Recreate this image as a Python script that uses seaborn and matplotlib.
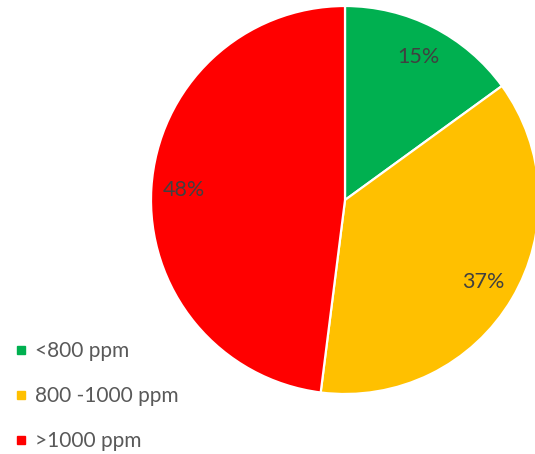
import matplotlib
matplotlib.use("Agg")
import matplotlib.pyplot as plt
from matplotlib.lines import Line2D
import seaborn as sns

# CO2 concentration bands and their share of measurements
categories = ["<800 ppm", "800 -1000 ppm", ">1000 ppm"]
shares = [15, 37, 48]
colors = ["#00B050", "#FFC000", "#FF0000"]

sns.set_theme(style="white")
plt.rcParams["font.family"] = ["Lato", "DejaVu Sans"]

W, H = 535, 454
fig = plt.figure(figsize=(W / 100, H / 100), dpi=100)
fig.patch.set_facecolor("white")

# pie centred at (345, 200) px from the top-left, radius 194 px
cx, cy, r = 345, 200, 194
ax = fig.add_axes([(cx - r) / W, (H - cy - r) / H, 2 * r / W, 2 * r / H])

wedges, _, autotexts = ax.pie(
    shares,
    colors=colors,
    startangle=90,
    counterclock=False,
    autopct="%d%%",
    pctdistance=0.83,
    wedgeprops=dict(edgecolor="white", linewidth=1.6),
    textprops=dict(color="#404040", fontsize=15.5),
)
ax.set_xlim(-1, 1)
ax.set_ylim(-1, 1)
ax.set_aspect("equal")
ax.axis("off")

handles = [
    Line2D([], [], linestyle="none", marker="s", markersize=6,
           markerfacecolor=c, markeredgecolor=c)
    for c in colors
]
fig.legend(
    handles, categories,
    loc="upper left",
    bbox_to_anchor=(7 / W, 1 - 333 / H),
    frameon=False,
    fontsize=15,
    labelcolor="#595959",
    handlelength=0.5,
    handletextpad=0.45,
    labelspacing=1.2,
    borderaxespad=0,
    borderpad=0.4,
)

fig.savefig("out.png", dpi=100, facecolor="white")
